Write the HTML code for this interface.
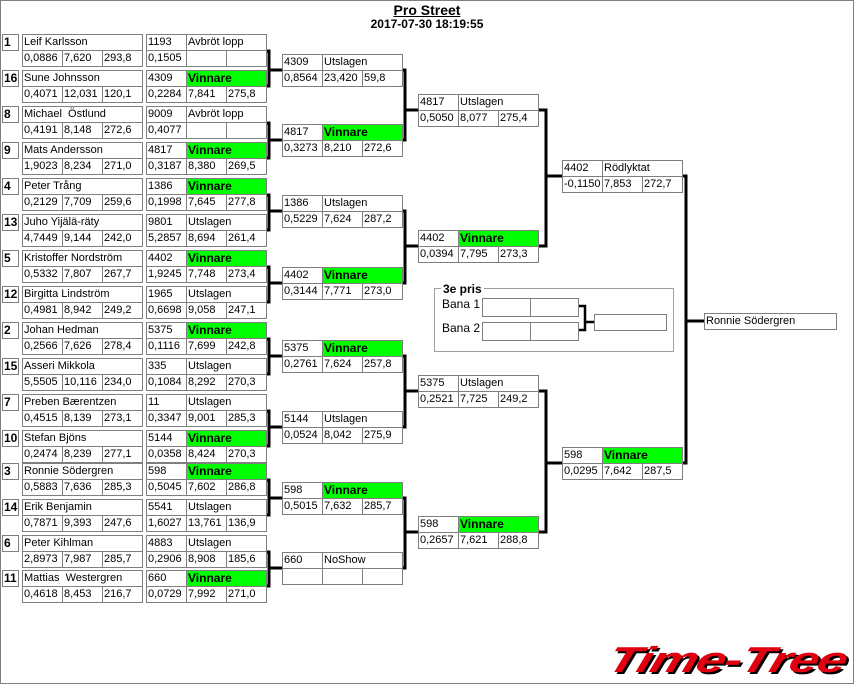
<!DOCTYPE html>
<html><head><meta charset="utf-8"><style>
body{margin:0;background:#fff;}
#f{position:relative;width:854px;height:684px;overflow:hidden;box-sizing:border-box;border:1px solid #808080;background:#fff;font-family:"Liberation Sans",sans-serif;}
.c{position:absolute;height:17px;border:1px solid #7f7f7f;box-sizing:border-box;font-size:11px;line-height:15px;padding-left:1px;white-space:nowrap;overflow:hidden;background:#fff;color:#000}
.s{width:17px;font-weight:bold;font-size:12px;}
.n{width:121px}.w{width:41px}.v{width:81px}
.g{background:#00ff00;font-weight:bold;font-size:12px}
svg{position:absolute;left:0;top:0}
</style></head><body><div id="f">
<div style="position:absolute;left:0;width:852px;top:1px;text-align:center;font-weight:bold;font-size:14px;text-decoration:underline;">Pro Street</div>
<div style="position:absolute;left:0;width:852px;top:16px;text-align:center;font-weight:bold;font-size:12px;">2017-07-30 18:19:55</div>

<svg width="854" height="684" fill="none" stroke="#000" stroke-width="3">
<path d="M265 50H268V85H265M268 69H281"/>
<path d="M265 122H268V157H265M268 139H281"/>
<path d="M265 194H268V229H265M268 210H281"/>
<path d="M265 266H268V301H265M268 282H281"/>
<path d="M265 338H268V373H265M268 355H281"/>
<path d="M265 410H268V445H265M268 426H281"/>
<path d="M265 479H268V514H265M268 497H281"/>
<path d="M265 551H268V585H265M268 567H281"/>
<path d="M401 69H404V139H401M404 109H417"/>
<path d="M401 210H404V282H401M404 245H417"/>
<path d="M401 355H404V426H401M404 390H417"/>
<path d="M401 497H404V567H401M404 531H417"/>
<path d="M537 109H545V245H537M545 175H561"/>
<path d="M537 390H545V531H537M545 462H561"/>
<path d="M681 175H685V462H681M685 320H703"/>
<path d="M577 305H584V329H577M584 321H593" stroke-width="2.5"/>
</svg>

<!-- 3e pris -->
<div style="position:absolute;left:433px;top:287px;width:240px;height:64px;border:1px solid #a0a0a0;box-sizing:border-box"></div>
<div style="position:absolute;left:440px;top:281px;background:#fff;padding:0 2px;font-weight:bold;font-size:12px">3e pris</div>
<div style="position:absolute;left:441px;top:296px;font-size:12px">Bana 1</div>
<div style="position:absolute;left:441px;top:320px;font-size:12px">Bana 2</div>
<div class="c" style="left:481px;top:297px;width:49px;height:19px"></div><div class="c" style="left:529px;top:297px;width:49px;height:19px"></div>
<div class="c" style="left:481px;top:321px;width:49px;height:19px"></div><div class="c" style="left:529px;top:321px;width:49px;height:19px"></div>
<div class="c" style="left:593px;top:313px;width:73px"></div>
<div class="c" style="left:703px;top:312px;width:133px">Ronnie Södergren</div>

<!-- R1 -->
<div class="c s" style="left:1px;top:33px">1</div><div class="c n" style="left:21px;top:33px">Leif Karlsson</div><div class="c w" style="left:21px;top:49px">0,0886</div><div class="c w" style="left:61px;top:49px">7,620</div><div class="c w" style="left:101px;top:49px">293,8</div>
<div class="c w" style="left:145px;top:33px">1193</div><div class="c v" style="left:185px;top:33px">Avbröt lopp</div><div class="c w" style="left:145px;top:49px">0,1505</div><div class="c w" style="left:185px;top:49px"></div><div class="c w" style="left:225px;top:49px"></div>

<div class="c s" style="left:1px;top:69px">16</div><div class="c n" style="left:21px;top:69px">Sune Johnsson</div><div class="c w" style="left:21px;top:85px">0,4071</div><div class="c w" style="left:61px;top:85px">12,031</div><div class="c w" style="left:101px;top:85px">120,1</div>
<div class="c w" style="left:145px;top:69px">4309</div><div class="c v g" style="left:185px;top:69px">Vinnare</div><div class="c w" style="left:145px;top:85px">0,2284</div><div class="c w" style="left:185px;top:85px">7,841</div><div class="c w" style="left:225px;top:85px">275,8</div>

<div class="c s" style="left:1px;top:105px">8</div><div class="c n" style="left:21px;top:105px">Michael &nbsp;Östlund</div><div class="c w" style="left:21px;top:121px">0,4191</div><div class="c w" style="left:61px;top:121px">8,148</div><div class="c w" style="left:101px;top:121px">272,6</div>
<div class="c w" style="left:145px;top:105px">9009</div><div class="c v" style="left:185px;top:105px">Avbröt lopp</div><div class="c w" style="left:145px;top:121px">0,4077</div><div class="c w" style="left:185px;top:121px"></div><div class="c w" style="left:225px;top:121px"></div>

<div class="c s" style="left:1px;top:141px">9</div><div class="c n" style="left:21px;top:141px">Mats Andersson</div><div class="c w" style="left:21px;top:157px">1,9023</div><div class="c w" style="left:61px;top:157px">8,234</div><div class="c w" style="left:101px;top:157px">271,0</div>
<div class="c w" style="left:145px;top:141px">4817</div><div class="c v g" style="left:185px;top:141px">Vinnare</div><div class="c w" style="left:145px;top:157px">0,3187</div><div class="c w" style="left:185px;top:157px">8,380</div><div class="c w" style="left:225px;top:157px">269,5</div>

<div class="c s" style="left:1px;top:177px">4</div><div class="c n" style="left:21px;top:177px">Peter Trång</div><div class="c w" style="left:21px;top:193px">0,2129</div><div class="c w" style="left:61px;top:193px">7,709</div><div class="c w" style="left:101px;top:193px">259,6</div>
<div class="c w" style="left:145px;top:177px">1386</div><div class="c v g" style="left:185px;top:177px">Vinnare</div><div class="c w" style="left:145px;top:193px">0,1998</div><div class="c w" style="left:185px;top:193px">7,645</div><div class="c w" style="left:225px;top:193px">277,8</div>

<div class="c s" style="left:1px;top:213px">13</div><div class="c n" style="left:21px;top:213px">Juho Yijälä-räty</div><div class="c w" style="left:21px;top:229px">4,7449</div><div class="c w" style="left:61px;top:229px">9,144</div><div class="c w" style="left:101px;top:229px">242,0</div>
<div class="c w" style="left:145px;top:213px">9801</div><div class="c v" style="left:185px;top:213px">Utslagen</div><div class="c w" style="left:145px;top:229px">5,2857</div><div class="c w" style="left:185px;top:229px">8,694</div><div class="c w" style="left:225px;top:229px">261,4</div>

<div class="c s" style="left:1px;top:249px">5</div><div class="c n" style="left:21px;top:249px">Kristoffer Nordström</div><div class="c w" style="left:21px;top:265px">0,5332</div><div class="c w" style="left:61px;top:265px">7,807</div><div class="c w" style="left:101px;top:265px">267,7</div>
<div class="c w" style="left:145px;top:249px">4402</div><div class="c v g" style="left:185px;top:249px">Vinnare</div><div class="c w" style="left:145px;top:265px">1,9245</div><div class="c w" style="left:185px;top:265px">7,748</div><div class="c w" style="left:225px;top:265px">273,4</div>

<div class="c s" style="left:1px;top:285px">12</div><div class="c n" style="left:21px;top:285px">Birgitta Lindström</div><div class="c w" style="left:21px;top:301px">0,4981</div><div class="c w" style="left:61px;top:301px">8,942</div><div class="c w" style="left:101px;top:301px">249,2</div>
<div class="c w" style="left:145px;top:285px">1965</div><div class="c v" style="left:185px;top:285px">Utslagen</div><div class="c w" style="left:145px;top:301px">0,6698</div><div class="c w" style="left:185px;top:301px">9,058</div><div class="c w" style="left:225px;top:301px">247,1</div>

<div class="c s" style="left:1px;top:321px">2</div><div class="c n" style="left:21px;top:321px">Johan Hedman</div><div class="c w" style="left:21px;top:337px">0,2566</div><div class="c w" style="left:61px;top:337px">7,626</div><div class="c w" style="left:101px;top:337px">278,4</div>
<div class="c w" style="left:145px;top:321px">5375</div><div class="c v g" style="left:185px;top:321px">Vinnare</div><div class="c w" style="left:145px;top:337px">0,1116</div><div class="c w" style="left:185px;top:337px">7,699</div><div class="c w" style="left:225px;top:337px">242,8</div>

<div class="c s" style="left:1px;top:357px">15</div><div class="c n" style="left:21px;top:357px">Asseri Mikkola</div><div class="c w" style="left:21px;top:373px">5,5505</div><div class="c w" style="left:61px;top:373px">10,116</div><div class="c w" style="left:101px;top:373px">234,0</div>
<div class="c w" style="left:145px;top:357px">335</div><div class="c v" style="left:185px;top:357px">Utslagen</div><div class="c w" style="left:145px;top:373px">0,1084</div><div class="c w" style="left:185px;top:373px">8,292</div><div class="c w" style="left:225px;top:373px">270,3</div>

<div class="c s" style="left:1px;top:393px">7</div><div class="c n" style="left:21px;top:393px">Preben Bærentzen</div><div class="c w" style="left:21px;top:409px">0,4515</div><div class="c w" style="left:61px;top:409px">8,139</div><div class="c w" style="left:101px;top:409px">273,1</div>
<div class="c w" style="left:145px;top:393px">11</div><div class="c v" style="left:185px;top:393px">Utslagen</div><div class="c w" style="left:145px;top:409px">0,3347</div><div class="c w" style="left:185px;top:409px">9,001</div><div class="c w" style="left:225px;top:409px">285,3</div>

<div class="c s" style="left:1px;top:429px">10</div><div class="c n" style="left:21px;top:429px">Stefan Bjöns</div><div class="c w" style="left:21px;top:445px">0,2474</div><div class="c w" style="left:61px;top:445px">8,239</div><div class="c w" style="left:101px;top:445px">277,1</div>
<div class="c w" style="left:145px;top:429px">5144</div><div class="c v g" style="left:185px;top:429px">Vinnare</div><div class="c w" style="left:145px;top:445px">0,0358</div><div class="c w" style="left:185px;top:445px">8,424</div><div class="c w" style="left:225px;top:445px">270,3</div>

<div class="c s" style="left:1px;top:462px">3</div><div class="c n" style="left:21px;top:462px">Ronnie Södergren</div><div class="c w" style="left:21px;top:478px">0,5883</div><div class="c w" style="left:61px;top:478px">7,636</div><div class="c w" style="left:101px;top:478px">285,3</div>
<div class="c w" style="left:145px;top:462px">598</div><div class="c v g" style="left:185px;top:462px">Vinnare</div><div class="c w" style="left:145px;top:478px">0,5045</div><div class="c w" style="left:185px;top:478px">7,602</div><div class="c w" style="left:225px;top:478px">286,8</div>

<div class="c s" style="left:1px;top:498px">14</div><div class="c n" style="left:21px;top:498px">Erik Benjamin</div><div class="c w" style="left:21px;top:514px">0,7871</div><div class="c w" style="left:61px;top:514px">9,393</div><div class="c w" style="left:101px;top:514px">247,6</div>
<div class="c w" style="left:145px;top:498px">5541</div><div class="c v" style="left:185px;top:498px">Utslagen</div><div class="c w" style="left:145px;top:514px">1,6027</div><div class="c w" style="left:185px;top:514px">13,761</div><div class="c w" style="left:225px;top:514px">136,9</div>

<div class="c s" style="left:1px;top:534px">6</div><div class="c n" style="left:21px;top:534px">Peter Kihlman</div><div class="c w" style="left:21px;top:550px">2,8973</div><div class="c w" style="left:61px;top:550px">7,987</div><div class="c w" style="left:101px;top:550px">285,7</div>
<div class="c w" style="left:145px;top:534px">4883</div><div class="c v" style="left:185px;top:534px">Utslagen</div><div class="c w" style="left:145px;top:550px">0,2906</div><div class="c w" style="left:185px;top:550px">8,908</div><div class="c w" style="left:225px;top:550px">185,6</div>

<div class="c s" style="left:1px;top:569px">11</div><div class="c n" style="left:21px;top:569px">Mattias &nbsp;Westergren</div><div class="c w" style="left:21px;top:585px">0,4618</div><div class="c w" style="left:61px;top:585px">8,453</div><div class="c w" style="left:101px;top:585px">216,7</div>
<div class="c w" style="left:145px;top:569px">660</div><div class="c v g" style="left:185px;top:569px">Vinnare</div><div class="c w" style="left:145px;top:585px">0,0729</div><div class="c w" style="left:185px;top:585px">7,992</div><div class="c w" style="left:225px;top:585px">271,0</div>

<!-- R2 -->
<div class="c w" style="left:281px;top:53px">4309</div><div class="c v" style="left:321px;top:53px">Utslagen</div><div class="c w" style="left:281px;top:69px">0,8564</div><div class="c w" style="left:321px;top:69px">23,420</div><div class="c w" style="left:361px;top:69px">59,8</div>
<div class="c w" style="left:281px;top:123px">4817</div><div class="c v g" style="left:321px;top:123px">Vinnare</div><div class="c w" style="left:281px;top:139px">0,3273</div><div class="c w" style="left:321px;top:139px">8,210</div><div class="c w" style="left:361px;top:139px">272,6</div>
<div class="c w" style="left:281px;top:194px">1386</div><div class="c v" style="left:321px;top:194px">Utslagen</div><div class="c w" style="left:281px;top:210px">0,5229</div><div class="c w" style="left:321px;top:210px">7,624</div><div class="c w" style="left:361px;top:210px">287,2</div>
<div class="c w" style="left:281px;top:266px">4402</div><div class="c v g" style="left:321px;top:266px">Vinnare</div><div class="c w" style="left:281px;top:282px">0,3144</div><div class="c w" style="left:321px;top:282px">7,771</div><div class="c w" style="left:361px;top:282px">273,0</div>
<div class="c w" style="left:281px;top:339px">5375</div><div class="c v g" style="left:321px;top:339px">Vinnare</div><div class="c w" style="left:281px;top:355px">0,2761</div><div class="c w" style="left:321px;top:355px">7,624</div><div class="c w" style="left:361px;top:355px">257,8</div>
<div class="c w" style="left:281px;top:410px">5144</div><div class="c v" style="left:321px;top:410px">Utslagen</div><div class="c w" style="left:281px;top:426px">0,0524</div><div class="c w" style="left:321px;top:426px">8,042</div><div class="c w" style="left:361px;top:426px">275,9</div>
<div class="c w" style="left:281px;top:481px">598</div><div class="c v g" style="left:321px;top:481px">Vinnare</div><div class="c w" style="left:281px;top:497px">0,5015</div><div class="c w" style="left:321px;top:497px">7,632</div><div class="c w" style="left:361px;top:497px">285,7</div>
<div class="c w" style="left:281px;top:551px">660</div><div class="c v" style="left:321px;top:551px">NoShow</div><div class="c w" style="left:281px;top:567px"></div><div class="c w" style="left:321px;top:567px"></div><div class="c w" style="left:361px;top:567px"></div>

<!-- R3 -->
<div class="c w" style="left:417px;top:93px">4817</div><div class="c v" style="left:457px;top:93px">Utslagen</div><div class="c w" style="left:417px;top:109px">0,5050</div><div class="c w" style="left:457px;top:109px">8,077</div><div class="c w" style="left:497px;top:109px">275,4</div>
<div class="c w" style="left:417px;top:229px">4402</div><div class="c v g" style="left:457px;top:229px">Vinnare</div><div class="c w" style="left:417px;top:245px">0,0394</div><div class="c w" style="left:457px;top:245px">7,795</div><div class="c w" style="left:497px;top:245px">273,3</div>
<div class="c w" style="left:417px;top:374px">5375</div><div class="c v" style="left:457px;top:374px">Utslagen</div><div class="c w" style="left:417px;top:390px">0,2521</div><div class="c w" style="left:457px;top:390px">7,725</div><div class="c w" style="left:497px;top:390px">249,2</div>
<div class="c w" style="left:417px;top:515px">598</div><div class="c v g" style="left:457px;top:515px">Vinnare</div><div class="c w" style="left:417px;top:531px">0,2657</div><div class="c w" style="left:457px;top:531px">7,621</div><div class="c w" style="left:497px;top:531px">288,8</div>

<!-- R4 -->
<div class="c w" style="left:561px;top:159px">4402</div><div class="c v" style="left:601px;top:159px">Rödlyktat</div><div class="c w" style="left:561px;top:175px">-0,1150</div><div class="c w" style="left:601px;top:175px">7,853</div><div class="c w" style="left:641px;top:175px">272,7</div>
<div class="c w" style="left:561px;top:446px">598</div><div class="c v g" style="left:601px;top:446px">Vinnare</div><div class="c w" style="left:561px;top:462px">0,0295</div><div class="c w" style="left:601px;top:462px">7,642</div><div class="c w" style="left:641px;top:462px">287,5</div>

<div style="position:absolute;left:614px;top:638px;width:180px;font-weight:bold;font-style:italic;font-size:36px;color:#e00010;text-shadow:2px 2px 0 #000;transform-origin:0 0;transform:scaleX(1.47) skewX(-12deg);white-space:nowrap;letter-spacing:-1px">Time-Tree</div>
</div></body></html>
